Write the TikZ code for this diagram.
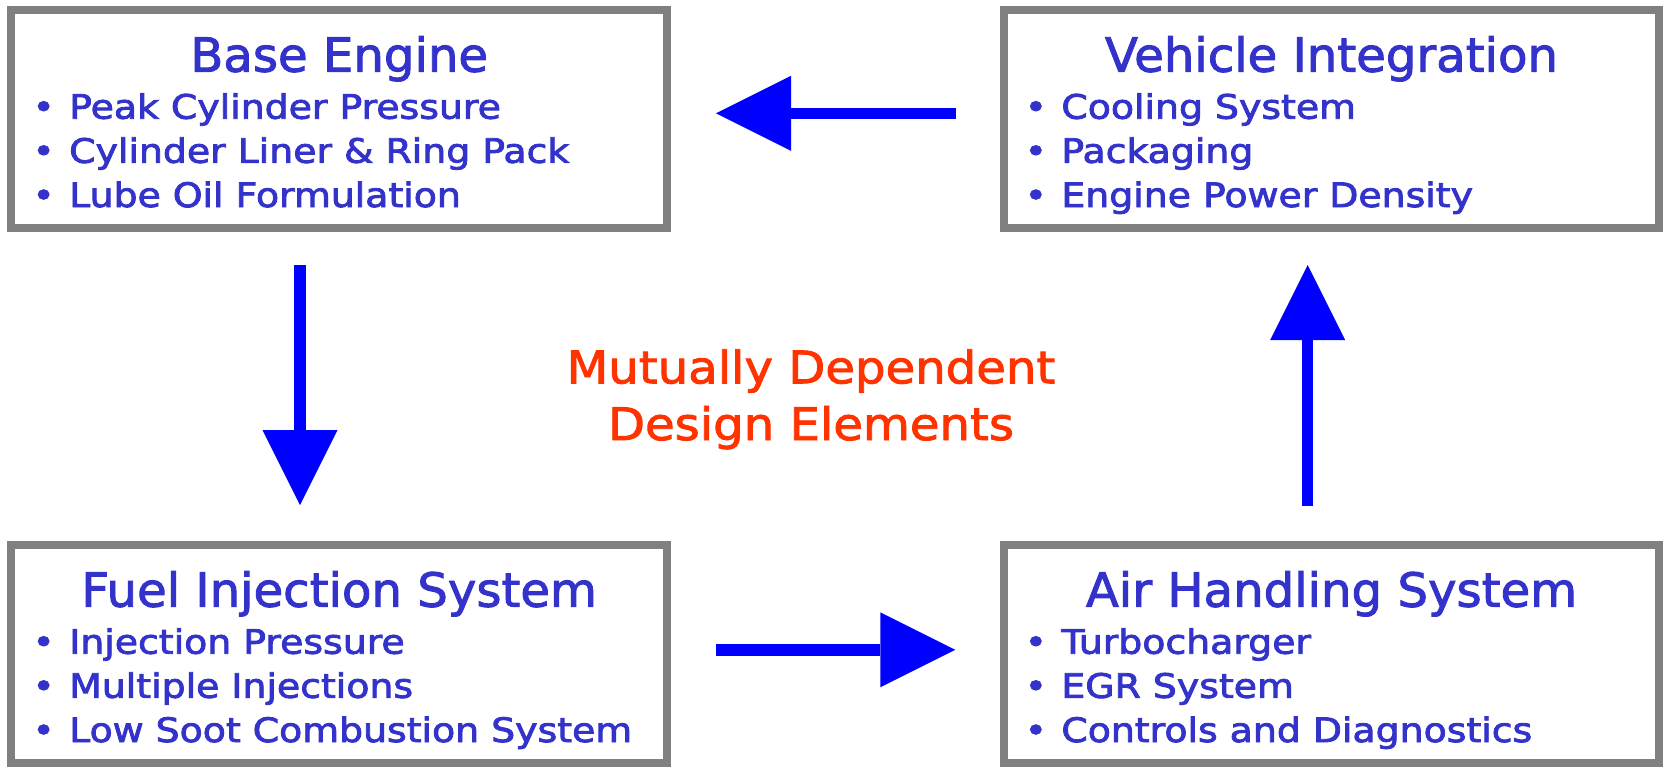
\documentclass[tikz,border=0pt]{standalone}
\usepackage{fontspec}
\setmainfont{DejaVu Sans}
\newfontfamily\titlefont[FakeStretch=1.025, FakeBold=2]{DejaVu Sans}
\newfontfamily\itemfont[FakeStretch=1.125, FakeBold=2.5]{DejaVu Sans}
\newfontfamily\midfont[FakeStretch=1.075, FakeBold=2]{DejaVu Sans}
\usetikzlibrary{arrows.meta}

\definecolor{textblue}{HTML}{3333CC}
\definecolor{arrowblue}{HTML}{0000FF}
\definecolor{framegray}{HTML}{808080}
\definecolor{accentred}{HTML}{FF3300}

\newcommand{\bul}{\makebox[36.7pt][l]{\textbullet}}

\tikzset{
  panel/.style={draw=framegray, line width=8pt, fill=white, inner sep=0pt},
  paneltitle/.style={text=textblue, inner sep=0pt, anchor=base,
    font=\titlefont\fontsize{47}{56}\selectfont},
  panelitem/.style={text=textblue, inner sep=0pt, anchor=base west,
    font=\itemfont\fontsize{33.6}{44}\selectfont},
  midtext/.style={text=accentred, inner sep=0pt, anchor=base,
    font=\midfont\fontsize{44.8}{56}\selectfont},
  bigarrow/.style={draw=arrowblue, line width=11.5pt,
    -{Triangle[length=75pt, width=75pt, line width=0pt]}},
}

\begin{document}
\begin{tikzpicture}[x=1pt, y=-1pt]
\useasboundingbox (0,0) rectangle (1663,769);

% the four panels
\node[panel, minimum width=655.7pt, minimum height=218.3pt] (be) at (339.2,119.2) {};
\node[panel, minimum width=655pt,   minimum height=218.3pt] (vi) at (1331.5,119.2) {};
\node[panel, minimum width=655.7pt, minimum height=218.3pt] (fi) at (339.2,653.9) {};
\node[panel, minimum width=655pt,   minimum height=218.3pt] (ah) at (1331.5,653.9) {};

% Base Engine
\node[paneltitle] (be-title) at (339.2,71.7) {Base Engine};
\node[panelitem] (be-1) at (32.3,118.7) {\bul Peak Cylinder Pressure};
\node[panelitem] (be-2) at (32.3,162.8) {\bul Cylinder Liner \& Ring Pack};
\node[panelitem] (be-3) at (32.3,207.0) {\bul Lube Oil Formulation};

% Vehicle Integration
\node[paneltitle] (vi-title) at (1331.5,71.7) {Vehicle Integration};
\node[panelitem] (vi-1) at (1024.5,118.7) {\bul Cooling System};
\node[panelitem] (vi-2) at (1024.5,162.8) {\bul Packaging};
\node[panelitem] (vi-3) at (1024.5,207.0) {\bul Engine Power Density};

% Fuel Injection System
\node[paneltitle] (fi-title) at (339.2,606.7) {Fuel Injection System};
\node[panelitem] (fi-1) at (32.3,653.7) {\bul Injection Pressure};
\node[panelitem] (fi-2) at (32.3,697.8) {\bul Multiple Injections};
\node[panelitem] (fi-3) at (32.3,742.0) {\bul Low Soot Combustion System};

% Air Handling System
\node[paneltitle] (ah-title) at (1331.5,606.7) {Air Handling System};
\node[panelitem] (ah-1) at (1024.5,653.7) {\bul Turbocharger};
\node[panelitem] (ah-2) at (1024.5,697.8) {\bul EGR System};
\node[panelitem] (ah-3) at (1024.5,742.0) {\bul Controls and Diagnostics};

% centre caption
\node[midtext] (mid-1) at (811,383.3) {Mutually Dependent};
\node[midtext] (mid-2) at (811,440.0) {Design Elements};

% arrow end points in the gaps between the panels
\coordinate (vi-be-from) at (955.7,113.3);
\coordinate (vi-be-to)   at (716.0,113.3);
\coordinate (be-fi-from) at (300.0,265.0);
\coordinate (be-fi-to)   at (300.0,505.0);
\coordinate (fi-ah-from) at (715.7,649.8);
\coordinate (fi-ah-to)   at (955.3,649.8);
\coordinate (ah-vi-from) at (1307.7,506.0);
\coordinate (ah-vi-to)   at (1307.7,265.0);

\draw[bigarrow] (vi-be-from) -- (vi-be-to);
\draw[bigarrow] (be-fi-from) -- (be-fi-to);
\draw[bigarrow] (fi-ah-from) -- (fi-ah-to);
\draw[bigarrow] (ah-vi-from) -- (ah-vi-to);
\end{tikzpicture}
\end{document}
